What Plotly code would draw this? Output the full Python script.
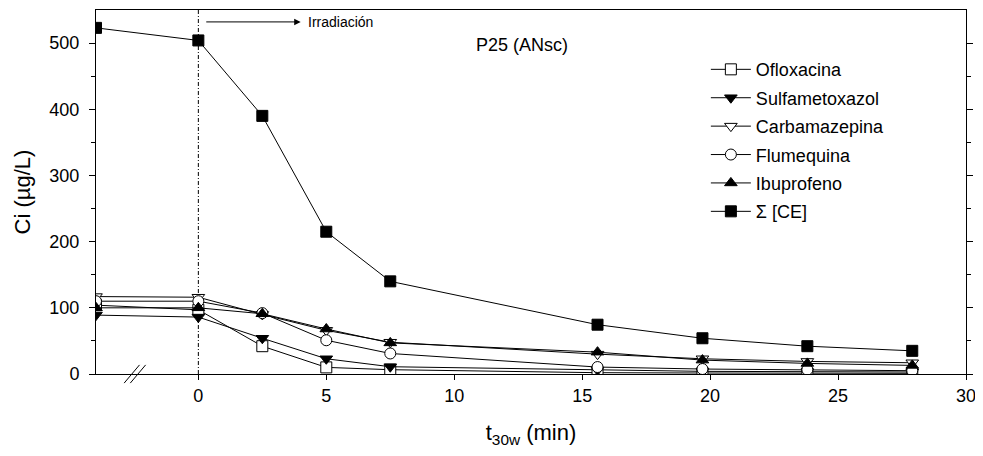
import plotly.graph_objects as go

# sampling times (min); -4 is the dark adsorption point before irradiation
t_min = [-4, 0, 2.5, 5, 7.5, 15.6, 19.7, 23.8, 27.9]

ofloxacina = [104, 97, 42, 10, 6.5, 2, 1.5, 1, 1]
sulfametoxazol = [89, 86, 54, 23, 11, 6, 4, 3.5, 3]
carbamazepina = [117, 116, 90, 66, 48, 30, 23, 19, 17]
flumequina = [110, 110, 92, 51, 31, 10.5, 7.5, 6.5, 5]
ibuprofeno = [100, 100, 91, 68, 47, 33, 21, 16, 13]
suma_ce = [523, 504, 390, 215, 140, 74.5, 54, 42, 35]

x_ticks = [0, 5, 10, 15, 20, 25, 30]
y_ticks = [0, 100, 200, 300, 400, 500]

FONT = "Liberation Sans, Arial, sans-serif"

series = [
    ("Ofloxacina", ofloxacina, "square", "white"),
    ("Sulfametoxazol", sulfametoxazol, "triangle-down", "black"),
    ("Carbamazepina", carbamazepina, "triangle-down", "white"),
    ("Flumequina", flumequina, "circle", "white"),
    ("Ibuprofeno", ibuprofeno, "triangle-up", "black"),
    ("\u03a3 [CE]", suma_ce, "square", "black"),
]

fig = go.Figure()

for name, vals, sym, fill in series:
    fig.add_trace(go.Scatter(
        x=t_min, y=vals,
        mode="lines+markers",
        name=name, legendgroup=name,
        line=dict(color="black", width=1),
        marker=dict(symbol=sym, size=11, color=fill, line=dict(color="black", width=1)),
    ))

# start of irradiation
fig.add_shape(type="line", xref="x", yref="paper", x0=0, x1=0, y0=0, y1=1,
              line=dict(color="black", width=1, dash="4px,2px,1px,2px"), layer="below")

fig.add_annotation(x=4.0, y=532, ax=0.25, ay=532, axref="x", ayref="y", xref="x", yref="y",
                   text="", showarrow=True, arrowhead=2, arrowsize=1.3, arrowwidth=1, arrowcolor="black")
fig.add_annotation(x=4.2, y=532, xref="x", yref="y", text="Irradiación", showarrow=False,
                   xanchor="left", font=dict(size=14, color="black", family=FONT))
fig.add_annotation(x=12.66, y=497, xref="x", yref="y", text="P25 (ANsc)", showarrow=False,
                   font=dict(size=18, color="black", family=FONT))

# axis break marks
for xc in [-2.6, -2.36]:
    fig.add_shape(type="line", xref="x", yref="paper",
                  x0=xc - 0.3, x1=xc + 0.3, y0=-0.025, y1=0.025,
                  line=dict(color="black", width=1))

# page body adds 8px offset, margins compensate
fig.update_layout(
    width=983, height=456,
    margin=dict(l=88, r=25, t=2, b=90),
    paper_bgcolor="white", plot_bgcolor="white",
    font=dict(family=FONT, size=18, color="black"),
    showlegend=True,
    legend=dict(x=0.701, y=0.887, xanchor="left", yanchor="top", tracegroupgap=2,
                bgcolor="rgba(0,0,0,0)", font=dict(size=18), itemwidth=40),
    xaxis=dict(
        range=[-4, 30], tickvals=x_ticks, showgrid=False, zeroline=False,
        showline=True, linecolor="black", linewidth=1, mirror=True,
        ticks="outside", ticklen=5, tickcolor="black",
        title=dict(text="t<sub>30w</sub> (min)", standoff=20),
    ),
    yaxis=dict(
        range=[0, 550], tickvals=y_ticks, showgrid=False, zeroline=False,
        showline=True, linecolor="black", linewidth=1, mirror="allticks",
        ticks="outside", ticklen=6, tickcolor="black", ticklabelstandoff=6,
        minor=dict(tickvals=[50, 150, 250, 350, 450], ticks="outside", ticklen=4, tickcolor="black"),
        title=dict(text="Ci (\u00b5g/L)", standoff=12),
    ),
)

fig.write_html("out.html")
